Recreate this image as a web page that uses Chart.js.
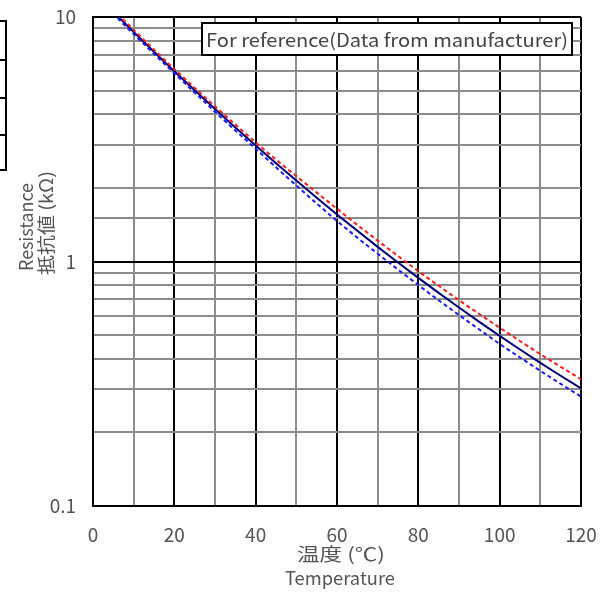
<!DOCTYPE html>
<html>
<head>
<meta charset="utf-8">
<script src="https://cdn.jsdelivr.net/npm/chart.js@4.4.1/dist/chart.umd.min.js"></script>
<style>
  body { margin: 0; background: #fff; }
  canvas { display: block; }
</style>
</head>
<body>
<canvas id="rt" width="611" height="592"></canvas>
<script>
// temperature (degC) vs resistance (kOhm)
var temps   = [0, 5, 10, 15, 20, 25, 30, 35, 40, 45, 50, 55, 60, 65, 70, 75, 80, 85, 90, 95, 100, 105, 110, 115, 120];
var resMid  = [12.73, 10.50, 8.687, 7.210, 6.004, 5.016, 4.203, 3.534, 2.981, 2.523, 2.142, 1.824, 1.558, 1.335, 1.148, 0.9905, 0.857, 0.7442, 0.6482, 0.5664, 0.4966, 0.4367, 0.3852, 0.3410, 0.3027];
var resHigh = [12.98, 10.71, 8.86, 7.35, 6.12, 5.13, 4.31, 3.63, 3.07, 2.61, 2.234, 1.915, 1.644, 1.412, 1.217, 1.053, 0.913, 0.7956, 0.6949, 0.6095, 0.5363, 0.4729, 0.4179, 0.3710, 0.3299];
var resLow  = [12.48, 10.29, 8.513, 7.066, 5.884, 4.906, 4.098, 3.435, 2.892, 2.427, 2.046, 1.727, 1.465, 1.252, 1.076, 0.927, 0.801, 0.694, 0.604, 0.527, 0.460, 0.405, 0.357, 0.316, 0.280];

var xLabels = [0, 20, 40, 60, 80, 100, 120];
var yLabels = [0.1, 1, 10];

var noteText = "For reference(Data from manufacturer)";
var xTitle = ["温度 (℃)", "Temperature"];
var yTitle = ["Resistance", "抵抗値 (kΩ)"];

var FONT = "'Noto Sans CJK JP', 'DejaVu Sans', sans-serif";

function pts(vals) {
    return temps.map(function(t, i){ return { x: t, y: vals[i] }; });
}

function isDecade(v) {
    var l = Math.log10(v);
    return Math.abs(l - Math.round(l)) < 1e-6;
}

// draw text squeezed/stretched to a given width
function fitText(ctx, text, x, y, width, size, angle) {
    ctx.save();
    ctx.font = size + "px " + FONT;
    var w = ctx.measureText(text).width;
    ctx.translate(x, y);
    ctx.rotate(angle || 0);
    ctx.scale(width / w, 1);
    ctx.textAlign = "center";
    ctx.textBaseline = "middle";
    ctx.fillText(text, 0, 0);
    ctx.restore();
}

var extras = {
    id: "extras",
    beforeDraw: function(chart){
        var ctx = chart.ctx;
        ctx.save();
        // piece of a table on the left edge
        ctx.strokeStyle = "#000";
        ctx.lineWidth = 2;
        ctx.beginPath();
        [21, 60, 98, 135, 170].forEach(function(y){
            ctx.moveTo(0, y); ctx.lineTo(7, y);
        });
        ctx.moveTo(6, 20); ctx.lineTo(6, 171);
        ctx.stroke();
        ctx.restore();
    },
    afterDatasetsDraw: function(chart){
        var ctx = chart.ctx;
        ctx.save();
        // note box
        ctx.fillStyle = "#fff";
        ctx.fillRect(202, 23, 370, 32);
        ctx.strokeStyle = "#000";
        ctx.lineWidth = 2;
        ctx.strokeRect(202, 23, 370, 32);
        ctx.fillStyle = "#444";
        fitText(ctx, noteText, 387, 40, 362, 18);

        // axis titles
        ctx.fillStyle = "#555";
        fitText(ctx, xTitle[0], 341, 554, 88, 18);
        fitText(ctx, xTitle[1], 340, 578, 110, 18);
        fitText(ctx, yTitle[0], 26, 227, 88, 18, -Math.PI / 2);
        fitText(ctx, yTitle[1], 46, 223, 104, 18, -Math.PI / 2);
        ctx.restore();
    }
};

new Chart(document.getElementById("rt"), {
    type: "line",
    data: {
        datasets: [
            { data: pts(resHigh), borderColor: "#ff1a1a", borderWidth: 2, borderDash: [4, 3], pointRadius: 0, fill: false, cubicInterpolationMode: "monotone" },
            { data: pts(resLow),  borderColor: "#1a1aff", borderWidth: 2, borderDash: [4, 3], pointRadius: 0, fill: false, cubicInterpolationMode: "monotone" },
            { data: pts(resMid),  borderColor: "#000080", borderWidth: 2, pointRadius: 0, fill: false, cubicInterpolationMode: "monotone" }
        ]
    },
    options: {
        responsive: false,
        animation: false,
        events: [],
        layout: { padding: { top: 17, right: 30, left: 0, bottom: 0 } },
        plugins: { legend: { display: false }, tooltip: { enabled: false } },
        scales: {
            x: {
                type: "linear",
                min: 0, max: 120,
                afterFit: function(s){ s.height = 86; s.paddingLeft = 0; s.paddingRight = 0; },
                border: { color: "#000", width: 2 },
                grid: {
                    drawTicks: false,
                    lineWidth: 2,
                    color: function(c){ return c.tick && c.tick.value % 20 === 0 ? "#000" : "#8c8c8c"; }
                },
                ticks: {
                    stepSize: 10,
                    autoSkip: false,
                    maxRotation: 0,
                    padding: 17,
                    color: "#555",
                    font: { family: FONT, size: 19 },
                    callback: function(v){ return xLabels.indexOf(v) >= 0 ? String(v) : ""; }
                }
            },
            y: {
                type: "logarithmic",
                min: 0.1, max: 10,
                afterFit: function(s){ s.width = 93; s.paddingTop = 0; s.paddingBottom = 0; },
                border: { color: "#000", width: 2 },
                grid: {
                    drawTicks: false,
                    lineWidth: 2,
                    color: function(c){ return c.tick && isDecade(c.tick.value) ? "#000" : "#8c8c8c"; }
                },
                ticks: {
                    autoSkip: false,
                    padding: 17,
                    color: "#555",
                    font: { family: FONT, size: 19 },
                    callback: function(v){
                        for (var i = 0; i < yLabels.length; i++) {
                            if (Math.abs(v - yLabels[i]) < 1e-9) return String(yLabels[i]);
                        }
                        return "";
                    }
                }
            }
        }
    },
    plugins: [extras]
});
</script>
</body>
</html>
